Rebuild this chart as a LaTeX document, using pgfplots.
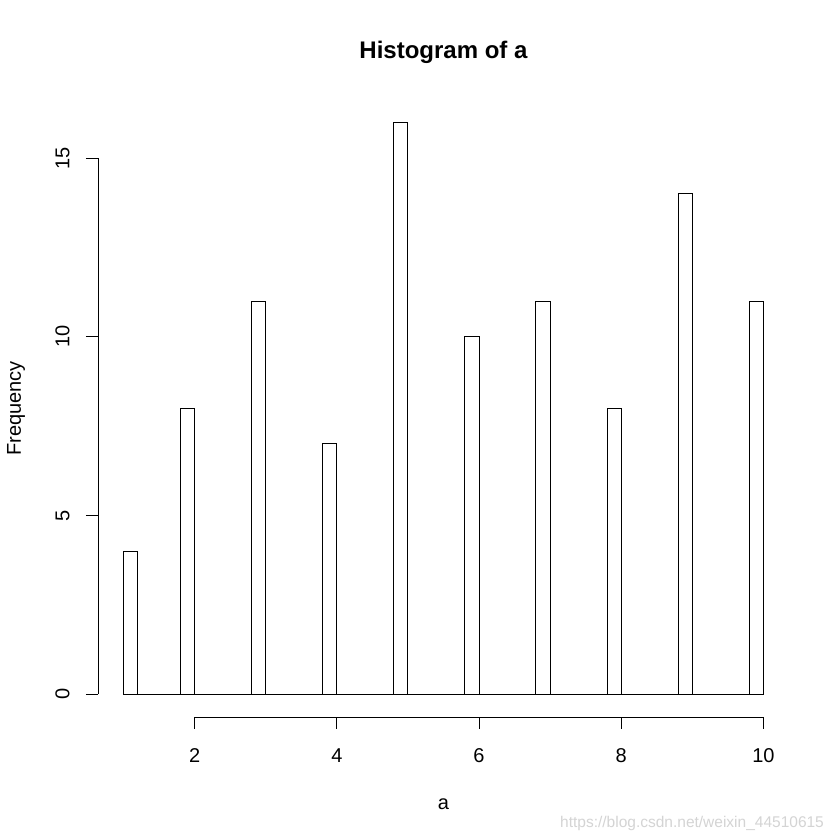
\documentclass[border=0pt]{standalone}
\usepackage{pgfplots}
\pgfplotsset{compat=1.18}
\usepackage{fontspec}
\setmainfont{Liberation Sans}
\definecolor{wm}{RGB}{212,212,212}
\begin{document}
\begin{tikzpicture}
\useasboundingbox (0,0) rectangle (840bp,840bp);
\fill[white] (0,0) rectangle (840bp,840bp);
\begin{axis}[
 at={(98bp,123bp)}, anchor=south west,
 scale only axis, width=691bp, height=617.5bp,
 xmin=0.64, xmax=10.36, ymin=-0.64, ymax=16.64,
 clip=false,
 axis x line*=bottom, axis y line*=left,
 axis line style={draw=none},
 xtick={2,4,6,8,10}, ytick={0,5,10,15},
 minor tick num=0,
 tick align=outside, major tick length=12bp,
 tick style={black, line width=1bp},
 /pgf/number format/assume math mode=true,
 every tick label/.append style={font=\fontsize{20bp}{24bp}\selectfont},
 xticklabel style={anchor=center, yshift=-27bp},
 yticklabel style={rotate=90, anchor=center, yshift=23.5bp},
 title={Histogram of a},
 title style={font=\bfseries\fontsize{24bp}{28bp}\selectfont, at={(axis description cs:0.5,1)}, anchor=center, yshift=41.5bp},
 xlabel={a},
 xlabel style={font=\fontsize{20bp}{24bp}\selectfont, at={(axis description cs:0.5,0)}, anchor=center, yshift=-87.5bp},
 ylabel={Frequency},
 ylabel style={font=\fontsize{20bp}{24bp}\selectfont, at={(axis description cs:-0.1186,0.5)}, anchor=center},
]
\addplot[ybar interval, fill=white, draw=black, line width=1bp] table {
x y
1.0 4
1.2 0
1.4 0
1.6 0
1.8 8
2.0 0
2.2 0
2.4 0
2.6 0
2.8 11
3.0 0
3.2 0
3.4 0
3.6 0
3.8 7
4.0 0
4.2 0
4.4 0
4.6 0
4.8 16
5.0 0
5.2 0
5.4 0
5.6 0
5.8 10
6.0 0
6.2 0
6.4 0
6.6 0
6.8 11
7.0 0
7.2 0
7.4 0
7.6 0
7.8 8
8.0 0
8.2 0
8.4 0
8.6 0
8.8 14
9.0 0
9.2 0
9.4 0
9.6 0
9.8 11
10.0 0
};
\addplot[black, line width=1bp, mark=none] coordinates {(2,-0.64) (10,-0.64)};
\addplot[black, line width=1bp, mark=none] coordinates {(0.64,0) (0.64,15)};
\end{axis}
\node[anchor=base west, text=wm, font=\fontsize{15.5bp}{18bp}\selectfont, inner sep=0pt] at (560bp,13bp) {https://blog.csdn.net/weixin\_44510615};
\end{tikzpicture}
\end{document}
